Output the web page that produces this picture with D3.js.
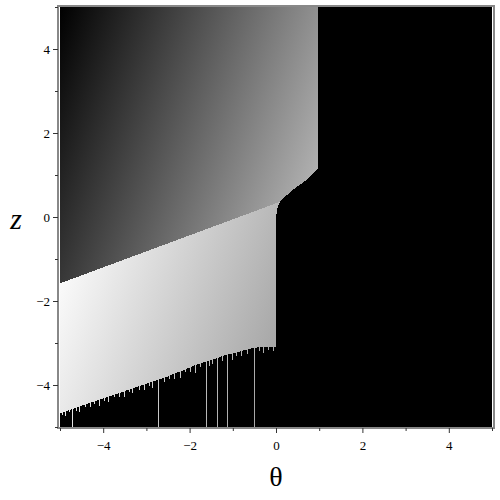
<!DOCTYPE html>
<html>
<head>
<meta charset="utf-8">
<script src="https://cdn.jsdelivr.net/npm/d3@7"></script>
<style>
  body { margin: 0; background: #fff; }
  svg { display: block; }
  .tick text { font-family: "Liberation Serif", serif; font-size: 13px; fill: #000; }
  .tick line { stroke: #333; }
</style>
</head>
<body>
<svg id="chart" width="500" height="500"></svg>
<script>
// Axis ranges and ticks
const thetaDomain = [-5, 5];
const zDomain = [-5, 5];
const majorTicks = [-4, -2, 0, 2, 4];
const minorTicks = [-5, -3, -1, 1, 3, 5];

// Upper (dark) region outline, [theta, z]
const upperRegion = [
  [-5, 5], [0.98, 5], [0.98, 1.17], [0.71, 0.88], [0.48, 0.72],
  [0.25, 0.52], [0.09, 0.36], [-5, -1.58]
];

// Lower (light) region: top and right side, [theta, z]
const lowerSide = [
  [-5, -1.58], [0.09, 0.36], [0.02, 0.17], [0, -0.07], [0, -3.09]
];

// Lower region bottom edge, sampled every 0.1 in theta from -5 to 0
const edgeStart = -5;
const edgeStep = 0.1;
const edgeZ = [
  -4.67, -4.635, -4.60, -4.565, -4.53, -4.495, -4.46, -4.425, -4.39, -4.355,
  -4.32, -4.285, -4.25, -4.215, -4.18, -4.145, -4.11, -4.075, -4.04, -4.005,
  -3.97, -3.935, -3.90, -3.865, -3.83, -3.795, -3.75, -3.71, -3.67, -3.63,
  -3.585, -3.54, -3.50, -3.47, -3.435, -3.40, -3.37, -3.335, -3.30, -3.27,
  -3.245, -3.22, -3.19, -3.165, -3.14, -3.11, -3.105, -3.10, -3.095, -3.09,
  -3.09
];

// Short light drips hanging below the edge: theta and depth (in z)
const dripTheta = [
  -4.95, -4.88, -4.80, -4.62, -4.55, -4.41, -4.30, -4.22, -4.10, -3.98,
  -3.90, -3.76, -3.64, -3.52, -3.40, -3.33, -3.18, -3.05, -2.95, -2.86,
  -2.60, -2.48, -2.37, -2.22, -2.10, -1.98, -1.88, -1.76, -1.55, -1.47,
  -1.24, -1.02, -0.93, -0.80, -0.68, -0.40, -0.30, -0.18, -0.08
];
const dripDepth = [
  0.06, 0.10, 0.05, 0.08, 0.12, 0.06, 0.10, 0.05, 0.14, 0.07,
  0.11, 0.06, 0.09, 0.13, 0.06, 0.10, 0.08, 0.12, 0.07, 0.15,
  0.09, 0.06, 0.12, 0.16, 0.07, 0.12, 0.18, 0.08, 0.14, 0.10,
  0.12, 0.15, 0.08, 0.12, 0.10, 0.09, 0.14, 0.07, 0.11
];

// Thin light streaks running from the edge to the bottom
const streakTheta = [-4.73, -2.73, -1.63, -1.36, -1.13, -0.50];

// Shading gradients: [theta, z] end points and colours
const upperShade = { from: [-5, 5], to: [3.9, 1.7], colors: ['#000000', '#f2f2f2'] };
const lowerShade = { from: [-5, -1.57], to: [-0.16, -3.36], colors: ['#fafafa', '#a8a8a8'] };

const svg = d3.select('#chart');

const x = d3.scaleLinear().domain(thetaDomain).range([60, 492]);
const y = d3.scaleLinear().domain(zDomain).range([427, 7]);

// Piecewise-linear bottom edge
const edgeTheta = edgeZ.map((d, i) => edgeStart + i * edgeStep);
const edge = d3.scaleLinear().domain(edgeTheta).range(edgeZ);

// Gradients
const defs = svg.append('defs');
function addGradient(id, shade) {
  const g = defs.append('linearGradient')
    .attr('id', id)
    .attr('gradientUnits', 'userSpaceOnUse')
    .attr('x1', x(shade.from[0])).attr('y1', y(shade.from[1]))
    .attr('x2', x(shade.to[0])).attr('y2', y(shade.to[1]));
  g.append('stop').attr('offset', 0).attr('stop-color', shade.colors[0]);
  g.append('stop').attr('offset', 1).attr('stop-color', shade.colors[1]);
}
addGradient('upperGrad', upperShade);
addGradient('lowerGrad', lowerShade);

const plot = svg.append('g').attr('shape-rendering', 'crispEdges');

// Black background
plot.append('rect')
  .attr('x', x(thetaDomain[0]))
  .attr('y', y(zDomain[1]))
  .attr('width', x(thetaDomain[1]) - x(thetaDomain[0]))
  .attr('height', y(zDomain[0]) - y(zDomain[1]))
  .attr('fill', '#000');

const line = d3.line().x(d => x(d[0])).y(d => y(d[1]));

// Lower region polygon: side outline, then the bottom edge back to the left
const lowerPts = lowerSide.concat(edgeTheta.map((t, i) => [t, edgeZ[i]]).reverse());
plot.append('path')
  .attr('d', line(lowerPts) + 'Z')
  .attr('fill', 'url(#lowerGrad)');

// Drips
plot.selectAll('.drip')
  .data(dripTheta)
  .enter()
  .append('line')
  .attr('class', 'drip')
  .attr('x1', d => Math.round(x(d)) + 0.5)
  .attr('x2', d => Math.round(x(d)) + 0.5)
  .attr('y1', d => y(edge(d)) - 1)
  .attr('y2', (d, i) => y(edge(d) - dripDepth[i]))
  .attr('stroke', 'url(#lowerGrad)')
  .attr('stroke-width', 1);

// Streaks
plot.selectAll('.streak')
  .data(streakTheta)
  .enter()
  .append('line')
  .attr('class', 'streak')
  .attr('x1', d => Math.round(x(d)) + 0.5)
  .attr('x2', d => Math.round(x(d)) + 0.5)
  .attr('y1', y(zDomain[0]))
  .attr('y2', d => y(edge(d)) - 1)
  .attr('stroke', 'url(#lowerGrad)')
  .attr('stroke-width', 1);

// Upper region polygon
plot.append('path')
  .attr('d', line(upperRegion) + 'Z')
  .attr('fill', 'url(#upperGrad)');

// Frame
svg.append('rect')
  .attr('x', 58).attr('y', 6)
  .attr('width', 436).attr('height', 422)
  .attr('fill', 'none')
  .attr('stroke', '#888')
  .attr('stroke-width', 2);

const fmt = d => (d < 0 ? '\u2212' + Math.abs(d) : String(d));

// Bottom axis
const xAxisG = svg.append('g').attr('transform', 'translate(0,428)');
xAxisG.append('g').call(d3.axisBottom(x).tickValues(majorTicks).tickSize(5).tickPadding(8).tickFormat(fmt));
xAxisG.append('g').call(d3.axisBottom(x).tickValues(minorTicks).tickSize(3).tickFormat(''));
xAxisG.selectAll('.domain').remove();

// Left axis
const yAxisG = svg.append('g').attr('transform', 'translate(58,0)');
yAxisG.append('g').call(d3.axisLeft(y).tickValues(majorTicks).tickSize(5).tickPadding(3).tickFormat(fmt));
yAxisG.append('g').call(d3.axisLeft(y).tickValues(minorTicks).tickSize(3).tickFormat(''));
yAxisG.selectAll('.domain').remove();

// Axis titles
svg.append('text')
  .attr('x', 276).attr('y', 486)
  .attr('text-anchor', 'middle')
  .attr('font-family', '"Liberation Serif", serif')
  .attr('font-size', 28)
  .text('θ');

svg.append('text')
  .attr('x', 16).attr('y', 229)
  .attr('text-anchor', 'middle')
  .attr('font-family', '"Liberation Serif", serif')
  .attr('font-style', 'italic')
  .attr('font-size', 30)
  .text('z');
</script>
</body>
</html>
